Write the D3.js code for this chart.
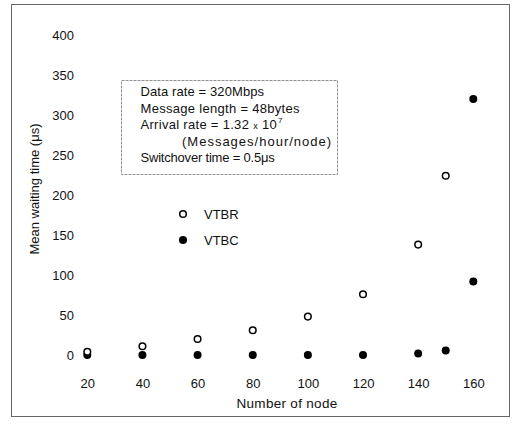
<!DOCTYPE html>
<html lang="en">
<head>
<meta charset="UTF-8">
<title>Mean waiting time vs number of node</title>
<script src="https://d3js.org/d3.v7.min.js"></script>
<style>
  body { margin: 0; background: #fff; }
  text { font-family: "Liberation Sans", Arial, sans-serif; fill: #111; }
</style>
</head>
<body>
<div id="chart"></div>
<script>
// data
var nodes   = [20, 40, 60, 80, 100, 120, 140, 150];
var vtbr    = [4, 11, 20, 31, 48, 76, 138, 224];
var vtbcNodes = [20, 40, 60, 80, 100, 120, 140, 150, 160];
var vtbc    = [0, 0, 0, 0, 0, 0, 2, 5.5, 92];
var extraNodes = [160];
var extra   = [320];
var xTicks  = [20, 40, 60, 80, 100, 120, 140, 160];
var yTicks  = [0, 50, 100, 150, 200, 250, 300, 350, 400];
var infoLines = ["Data rate = 320Mbps", "Message length = 48bytes", "Arrival rate = 1.32", "(Messages/hour/node)", "Switchover time = 0.5\u03bcs"];
var infoSpacing = [0.1, 0.3, 0.3, 1.0, -0.2];

var W = 516, H = 427;
var svg = d3.select("#chart").append("svg")
    .attr("width", W).attr("height", H);

// outer frame
svg.append("rect")
    .attr("x", 11.5).attr("y", 4.5)
    .attr("width", 498).attr("height", 412)
    .attr("fill", "none").attr("stroke", "#666").attr("stroke-width", 1);

var x = d3.scaleLinear().domain([20, 160]).range([87.3, 473.3]);
var y = d3.scaleLinear().domain([0, 400]).range([355, 35]);

// y axis (labels only)
var yAxis = svg.append("g")
    .attr("transform", "translate(77,0)")
    .call(d3.axisLeft(y).tickValues(yTicks).tickSize(0).tickPadding(3));
yAxis.select(".domain").remove();
yAxis.selectAll("text").style("font-size", "13px").style("font-family", "Liberation Sans, Arial, sans-serif").attr("fill", "#111");

// x axis (labels only)
var xAxis = svg.append("g")
    .attr("transform", "translate(0,370)")
    .call(d3.axisBottom(x).tickValues(xTicks).tickSize(0).tickPadding(8.5).tickFormat(d3.format("d")));
xAxis.select(".domain").remove();
xAxis.selectAll("text").style("font-size", "13px").style("font-family", "Liberation Sans, Arial, sans-serif").attr("fill", "#111");

// axis titles
svg.append("text")
    .attr("x", 287).attr("y", 408)
    .attr("text-anchor", "middle")
    .style("font-size", "13.5px")
    .style("letter-spacing", "0.3px")
    .text("Number of node");

svg.append("text")
    .attr("transform", "translate(39,189) rotate(-90)")
    .attr("text-anchor", "middle")
    .style("font-size", "13px")
    .text("Mean waiting time (\u03bcs)");

// info box
svg.append("rect")
    .attr("x", 121.5).attr("y", 80.5)
    .attr("width", 216).attr("height", 94)
    .attr("fill", "none").attr("stroke", "#777")
    .attr("stroke-width", 0.8).attr("stroke-dasharray", "3,1");

var info = svg.append("g").style("font-size", "13px");
var lines = info.selectAll("text")
    .data(infoLines)
    .enter().append("text")
    .attr("x", function(d, i) { return i == 3 ? 182 : 140.5; })
    .attr("y", function(d, i) { return 96 + i * 16.6; })
    .style("letter-spacing", function(d, i) { return infoSpacing[i] + "px"; })
    .text(function(d) { return d; });
// "x 10^7" on the arrival rate line
var arr = lines.filter(function(d, i) { return i == 2; });
arr.append("tspan").attr("dx", 4).style("font-size", "9px").text("x");
arr.append("tspan").attr("dx", 4).text("10");
arr.append("tspan").attr("dx", 1).attr("dy", -6).style("font-size", "8px").text("7");

// legend
svg.append("circle").attr("cx", 183).attr("cy", 214).attr("r", 3.3)
    .attr("fill", "#fff").attr("stroke", "#000").attr("stroke-width", 1.5);
svg.append("circle").attr("cx", 183).attr("cy", 240).attr("r", 4)
    .attr("fill", "#000");
svg.append("text").attr("x", 204).attr("y", 219).style("font-size", "13px").text("VTBR");
svg.append("text").attr("x", 204).attr("y", 245).style("font-size", "13px").text("VTBC");

// VTBC filled points
var filled = vtbcNodes.map(function(n, i) { return [n, vtbc[i]]; })
    .concat(extraNodes.map(function(n, i) { return [n, extra[i]]; }));
svg.append("g").selectAll("circle")
    .data(filled)
    .enter().append("circle")
    .attr("cx", function(d) { return x(d[0]); })
    .attr("cy", function(d) { return y(d[1]); })
    .attr("r", 4)
    .attr("fill", "#000");

// VTBR open points
svg.append("g").selectAll("circle")
    .data(nodes.map(function(n, i) { return [n, vtbr[i]]; }))
    .enter().append("circle")
    .attr("cx", function(d) { return x(d[0]); })
    .attr("cy", function(d) { return y(d[1]); })
    .attr("r", 3.3)
    .attr("fill", "#fff")
    .attr("stroke", "#000")
    .attr("stroke-width", 1.5);
</script>
</body>
</html>
